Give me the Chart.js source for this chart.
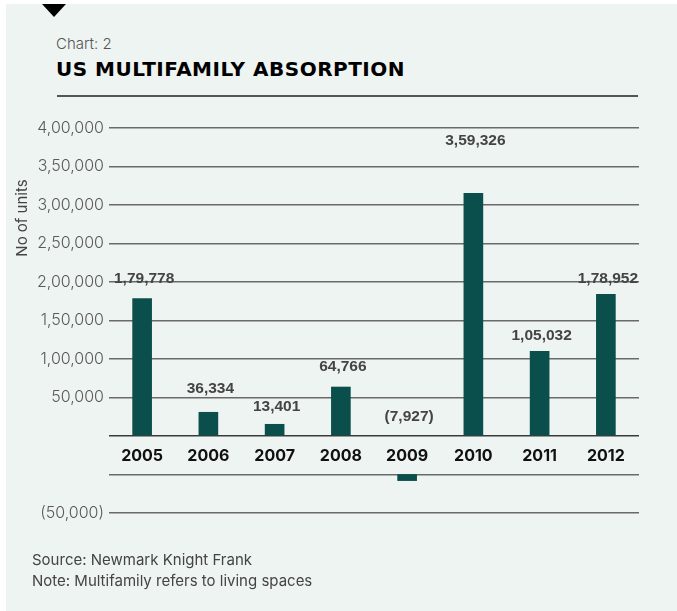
<!DOCTYPE html>
<html>
<head>
<meta charset="utf-8">
<script src="https://cdn.jsdelivr.net/npm/chart.js@4.4.1/dist/chart.umd.min.js"></script>
<style>
  html, body { margin: 0; padding: 0; background: #ffffff; }
  #wrap { position: relative; width: 677px; height: 611px; overflow: hidden; }
  #panel { position: absolute; left: 6px; top: 4px; width: 671px; height: 607px; background: #eef4f2; }
  #tri { position: absolute; left: 42px; top: 4px; width: 0; height: 0;
         border-left: 12px solid transparent; border-right: 12px solid transparent; border-top: 13px solid #000; }
  #kicker { position: absolute; left: 56px; top: 34px; font: 300 15px Inter, "Liberation Sans", sans-serif; color: #555; white-space: nowrap; }
  #title { position: absolute; left: 56px; top: 57px; font: 700 20px "DejaVu Sans", Inter, sans-serif; color: #000; white-space: nowrap; letter-spacing: 0.5px; }
  #rule { position: absolute; left: 57px; top: 95px; width: 581px; height: 2px; background: #555; }
  #notes { position: absolute; left: 32px; top: 549px; font: 400 15px Inter, "Liberation Sans", sans-serif; color: #444; line-height: 21px; white-space: nowrap; }
  canvas { position: absolute; left: 0; top: 0; }
</style>
</head>
<body>
<div id="wrap">
  <div id="panel"></div>
  <div id="tri"></div>
  <div id="kicker">Chart: 2</div>
  <div id="title">US MULTIFAMILY ABSORPTION</div>
  <div id="rule"></div>
  <canvas id="c" width="677" height="611"></canvas>
  <div id="notes">Source: Newmark Knight Frank<br>Note: Multifamily refers to living spaces</div>
</div>
<script>
// ---- data ----
const categories = ['2005', '2006', '2007', '2008', '2009', '2010', '2011', '2012'];
// bar heights as drawn in the picture
const barValues = [178500, 30800, 15200, 63600, -7927, 315000, 110000, 184000];
// values printed above the bars
const labelValues = [179778, 36334, 13401, 64766, -7927, 359326, 105032, 178952];
const labelTexts = ['1,79,778', '36,334', '13,401', '64,766', '(7,927)', '3,59,326', '1,05,032', '1,78,952'];
// y-axis rules: evenly spaced in the picture, the band below zero holds the year labels
const tickValues = [-100000, -50000, 0, 50000, 100000, 150000, 200000, 250000, 300000, 350000, 400000];
const tickLabels = ['(50,000)', '', '', '50,000', '1,00,000', '1,50,000', '2,00,000', '2,50,000', '3,00,000', '3,50,000', '4,00,000'];
const negativeBase = -50000; // negative bars hang from the rule under the year labels

const barData = barValues.map(v => v < 0 ? [negativeBase, negativeBase + v] : [0, v]);

const labelPlugin = {
  id: 'valueLabels',
  afterDatasetsDraw(chart) {
    const ctx = chart.ctx;
    const meta = chart.getDatasetMeta(0);
    const ys = chart.scales.y;
    ctx.save();
    ctx.font = '700 15.5px "Liberation Sans", Arial, sans-serif';
    ctx.fillStyle = '#444444';
    ctx.textAlign = 'center';
    ctx.textBaseline = 'middle';
    meta.data.forEach((el, i) => {
      const y = ys.getPixelForValue(Math.max(labelValues[i], 0)) - 19;
      ctx.fillText(labelTexts[i], el.x + 2, y);
    });
    // y axis title
    ctx.translate(22, 218);
    ctx.rotate(-Math.PI / 2);
    ctx.font = '400 15px Inter, "Liberation Sans", sans-serif';
    ctx.fillStyle = '#444444';
    ctx.fillText('No of units', 0, 0);
    ctx.restore();
  }
};

new Chart(document.getElementById('c'), {
  type: 'bar',
  data: {
    labels: categories,
    datasets: [{
      data: barData,
      backgroundColor: '#0a4f4b',
      borderWidth: 0,
      barThickness: 19
    }]
  },
  options: {
    responsive: false,
    animation: false,
    devicePixelRatio: 1,
    layout: { padding: { top: 128, right: 38, bottom: 98, left: 0 } },
    plugins: { legend: { display: false }, tooltip: { enabled: false }, title: { display: false } },
    scales: {
      x: {
        position: { y: 0 },
        grid: { display: false, drawTicks: false },
        border: { display: false },
        ticks: {
          padding: 11,
          color: '#111111',
          font: { family: 'Inter, "Liberation Sans", sans-serif', size: 16, weight: '700' },
          maxRotation: 0
        }
      },
      y: {
        min: -100000,
        max: 400000,
        afterBuildTicks: (scale) => { scale.ticks = tickValues.map(v => ({ value: v })); },
        afterFit: (scale) => { scale.width = 109; },
        grid: {
          drawTicks: false,
          color: (c) => (c.tick && c.tick.value === 0) ? '#3a3a3a' : '#6a6a6a',
          lineWidth: (c) => (c.tick && c.tick.value === 0) ? 1.6 : 1.4
        },
        border: { display: false },
        ticks: {
          autoSkip: false,
          padding: 5,
          color: '#5a5a5a',
          font: { family: 'Inter, "Liberation Sans", sans-serif', size: 16, weight: '300' },
          callback: (v) => { const i = tickValues.indexOf(v); return i >= 0 ? tickLabels[i] : ''; }
        }
      }
    }
  },
  plugins: [labelPlugin]
});
</script>
</body>
</html>
